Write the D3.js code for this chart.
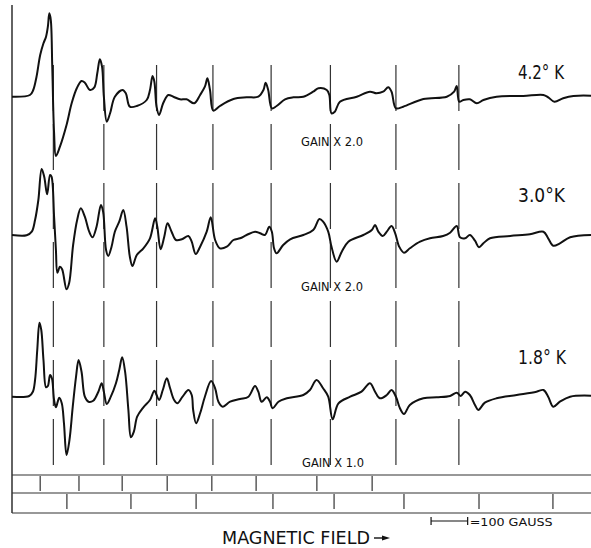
<!DOCTYPE html>
<html>
<head>
<meta charset="utf-8">
<script src="https://cdn.jsdelivr.net/npm/d3@7"></script>
<style>
  body { margin: 0; background: #fff; }
  text { font-family: "Liberation Sans Narrow", "DejaVu Sans Condensed", "Liberation Sans", sans-serif; fill: #111; }
</style>
</head>
<body>
<div class="chart"></div>
<script>
var width = 591,
    height = 548;

// field in gauss, signal in arbitrary units
var trace42 = [[0,0],[49,1.7],[58,6.7],[67,20],[77,41.7],[86,53.4],[93,60],[98,70],[102,83.4],[106,76.7],[110,30],[115,-36.3],[120,-59.3],[131,-50],[149,-28.3],[163,-6.6],[177,8.4],[190,15.7],[199,14],[213,6.7],[225,9.4],[233,23.4],[240,37.4],[246,30],[251,0],[259,-25],[268,-16.6],[281,0],[302,6.7],[311,3.4],[322,-10],[341,-9.3],[368,-3.3],[377,6.7],[384,20.7],[389,15],[395,-10],[402,-18.3],[413,-6.6],[427,1.7],[441,0],[459,-2.6],[477,-2.6],[498,-6.6],[514,1.7],[527,10],[534,18.4],[541,6.7],[550,-14],[568,-9.3],[605,-2.3],[641,-0.6],[673,0],[687,6.7],[693,14],[700,6.7],[710,-11.6],[723,-9.3],[746,-2.6],[769,-0.6],[796,0],[823,5],[837,8.4],[860,6.7],[867,1.7],[873,-16.6],[882,-15],[896,-5],[942,0],[978,5],[996,3.4],[1014,5],[1028,9.4],[1037,5],[1049,-11.6],[1069,-10],[1124,-2.3],[1188,0],[1208,5],[1215,10.7],[1222,-5],[1233,-3.3],[1251,-2.6],[1270,-6.6],[1288,-3.3],[1324,0],[1397,0.7],[1452,1.7],[1465,-0.6],[1482,-5],[1506,-1.6],[1534,0.7],[1582,1]];

var trace30 = [[0,0],[40,-0.3],[54,3.3],[63,15],[72,35],[81,66],[88,58.3],[96,40.7],[104,60],[108,58.3],[115,18.3],[120,-15],[124,-37.7],[131,-31.7],[137,-34.3],[149,-54.3],[156,-48.3],[167,-10],[178,15],[188,26.7],[199,18.3],[211,3.3],[220,-2.3],[231,8.3],[243,30],[249,23.3],[257,-15],[263,-21],[272,-11.7],[281,3.3],[293,13.3],[304,25],[313,8.3],[322,-21.7],[329,-31],[341,-20],[359,-13.3],[377,-3.3],[391,16.7],[397,8.3],[406,-14.3],[416,-1.7],[425,11.7],[436,3.3],[448,-5],[464,-4.3],[482,-1],[491,-6.7],[502,-19],[514,-11.7],[532,3.3],[543,17.7],[555,-5],[568,-13.3],[587,-11.7],[605,-5],[623,-3.3],[641,0],[664,3.3],[678,1.7],[691,0],[703,8.3],[710,3.3],[716,-13.3],[723,-18.3],[741,-10],[760,-4.3],[796,0],[823,5],[840,16],[850,13.3],[864,3.3],[873,-11.7],[887,-26.7],[901,-16.7],[919,-6.7],[960,0],[983,5],[992,10],[1001,3.3],[1013,-1],[1024,3.3],[1037,9],[1047,1.7],[1058,-11.7],[1071,-17.7],[1087,-13.3],[1115,-6.7],[1142,-3.3],[1178,-1],[1197,2.3],[1215,9],[1224,-2.3],[1238,-3.3],[1251,0],[1265,-5.7],[1276,-12.3],[1288,-8.3],[1306,-3.3],[1361,-1],[1415,0.7],[1452,3.3],[1465,-3.3],[1479,-10.7],[1497,-8.3],[1525,-2.3],[1582,0]];

var trace18 = [[0,0],[47,0.7],[57,5],[63,16.7],[69,46.7],[75,74],[80,66.7],[86,36.7],[93,9.4],[98,10.7],[104,21.7],[109,18.4],[115,-3.3],[120,-10.6],[125,-5],[129,-1],[136,-6.6],[142,-26.6],[149,-58.3],[157,-43.3],[166,-10],[175,20],[182,36.7],[190,25],[199,0],[209,-5],[222,-4],[236,5],[245,13.4],[251,5],[259,-7.3],[270,0],[284,13.4],[293,26.7],[301,39.4],[309,25],[318,-13.3],[325,-40.6],[333,-35],[342,-20],[359,-10.6],[377,-3.3],[389,6],[395,1.7],[402,-3.3],[412,6.7],[423,18.4],[432,8.4],[443,-3.3],[452,-6.6],[466,0],[482,6.7],[491,1.7],[495,-13.3],[503,-26.6],[514,-16.6],[527,0],[544,15.7],[555,8.4],[564,-5],[576,-10],[596,-5],[623,-2.3],[646,0],[664,10.7],[673,5],[682,-5],[696,-0.6],[705,-5],[712,-11.6],[728,-5],[751,-1.6],[796,1.7],[814,6.7],[832,16.7],[850,8.4],[864,0],[876,-22.6],[892,-6.6],[924,0],[955,5],[978,13.4],[992,5],[1005,-1.6],[1024,1.7],[1037,6.7],[1049,0],[1060,-11.6],[1071,-17.3],[1087,-8.3],[1124,-1.6],[1160,-0.6],[1197,0.7],[1215,4],[1226,0.7],[1238,5],[1251,1.7],[1265,-8.3],[1274,-13.3],[1292,-6],[1324,-1.6],[1379,1.7],[1433,5],[1452,6.7],[1465,0],[1479,-10],[1497,-5],[1525,0],[1582,1]];

var tempLabels = ["4.2\u00b0 K", "3.0\u00b0K", "1.8\u00b0 K"];
var gainLabels = ["GAIN X 2.0", "GAIN X 2.0", "GAIN X 1.0"];

// dashed resonance markers and the field-marker rows (gauss)
var resonanceFields = [113, 251, 395, 549, 708, 870, 1049, 1221];
var markerRow2 = [77, 183, 301, 424, 546, 667, 833, 984];
var markerRow3 = [150, 325, 503, 713, 880, 1071, 1276, 1478];
var scaleBarGauss = [1145, 1245];

var svg = d3.select(".chart").append("svg")
    .attr("width", width)
    .attr("height", height);

var x = d3.scaleLinear().domain([0, 1582]).range([12, 591]);

var baselines = [96.7, 235, 396.7];
var traces = [trace42, trace30, trace18];

// dashed lines
svg.append("g").selectAll("line")
    .data(resonanceFields)
    .enter().append("line")
    .attr("x1", d => x(d)).attr("x2", d => x(d))
    .attr("y1", 65).attr("y2", 475)
    .attr("stroke", "#333")
    .attr("stroke-width", 1.2)
    .attr("stroke-dasharray", "46,13");

// left axis line
svg.append("line")
    .attr("x1", 12).attr("x2", 12).attr("y1", 5).attr("y2", 513)
    .attr("stroke", "#222").attr("stroke-width", 1.4);

// marker box
[475, 493, 513].forEach(function(yy) {
  svg.append("line")
    .attr("x1", 12).attr("x2", 591).attr("y1", yy).attr("y2", yy)
    .attr("stroke", "#333").attr("stroke-width", 1.1);
});
svg.append("g").selectAll("line")
    .data(markerRow2)
    .enter().append("line")
    .attr("x1", d => x(d)).attr("x2", d => x(d))
    .attr("y1", 476).attr("y2", 491)
    .attr("stroke", "#333").attr("stroke-width", 1.2);
svg.append("g").selectAll("line")
    .data(markerRow3)
    .enter().append("line")
    .attr("x1", d => x(d)).attr("x2", d => x(d))
    .attr("y1", 494).attr("y2", 509)
    .attr("stroke", "#333").attr("stroke-width", 1.2);

// traces
traces.forEach(function(tr, i) {
  var y = d3.scaleLinear().domain([-100, 100]).range([baselines[i] + 100, baselines[i] - 100]);
  var line = d3.line()
      .x(d => x(d[0]))
      .y(d => y(d[1]))
      .curve(d3.curveCatmullRom.alpha(0.5));
  svg.append("path")
      .datum(tr)
      .attr("d", line)
      .attr("fill", "none")
      .attr("stroke", "#111")
      .attr("stroke-width", 2)
      .attr("stroke-linejoin", "round");
});

// temperature labels
var tempY = [79, 202, 364];
var tempW = [46, 47, 48];
svg.selectAll(".temp")
    .data(tempLabels)
    .enter().append("text")
    .attr("class", "temp")
    .attr("x", 518)
    .attr("y", (d, i) => tempY[i])
    .attr("font-size", 19)
    .attr("textLength", (d, i) => tempW[i])
    .attr("lengthAdjust", "spacingAndGlyphs")
    .text(d => d);

// gain labels
var gainY = [146, 291, 467];
svg.selectAll(".gain")
    .data(gainLabels)
    .enter().append("text")
    .attr("class", "gain")
    .attr("x", (d, i) => i == 2 ? 302 : 301)
    .attr("y", (d, i) => gainY[i])
    .attr("font-size", 12)
    .attr("textLength", 62)
    .attr("lengthAdjust", "spacingAndGlyphs")
    .text(d => d);

// scale bar
var sb = svg.append("g").attr("stroke", "#111").attr("stroke-width", 1.2);
sb.append("line").attr("x1", x(scaleBarGauss[0])).attr("x2", x(scaleBarGauss[1])).attr("y1", 521).attr("y2", 521);
scaleBarGauss.forEach(function(g) {
  sb.append("line").attr("x1", x(g)).attr("x2", x(g)).attr("y1", 517).attr("y2", 525);
});
svg.append("text")
    .attr("x", x(scaleBarGauss[1]) + 2)
    .attr("y", 526)
    .attr("font-size", 11)
    .attr("textLength", 83)
    .attr("lengthAdjust", "spacingAndGlyphs")
    .text("=100 GAUSS");

// axis title
svg.append("text")
    .attr("x", 222)
    .attr("y", 544)
    .attr("font-size", 17)
    .attr("textLength", 148)
    .attr("lengthAdjust", "spacingAndGlyphs")
    .text("MAGNETIC FIELD");
svg.append("line")
    .attr("x1", 374).attr("x2", 384).attr("y1", 538).attr("y2", 538)
    .attr("stroke", "#111").attr("stroke-width", 1.4);
svg.append("path")
    .attr("d", "M382,535.5 L390,538 L382,540.5 Z")
    .attr("fill", "#111");
</script>
</body>
</html>
